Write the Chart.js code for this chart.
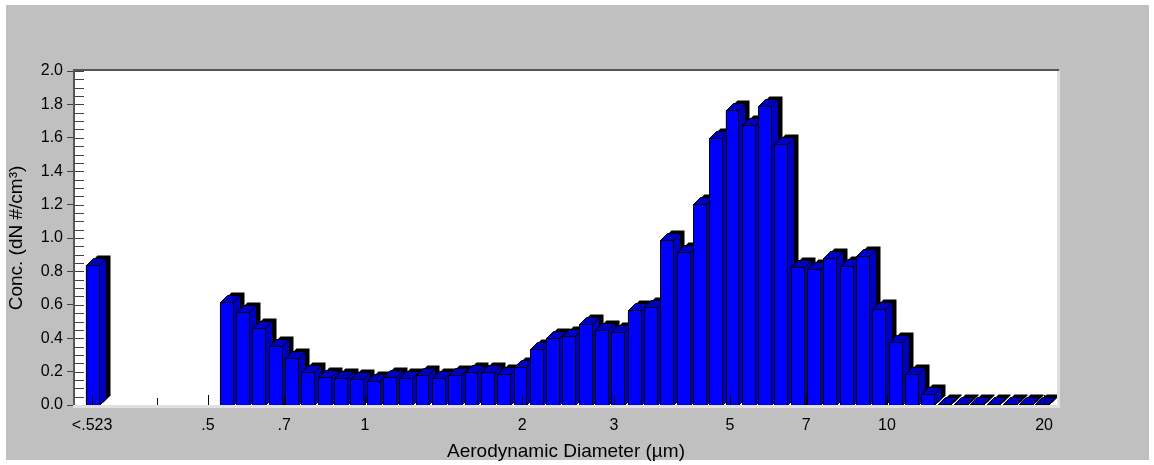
<!DOCTYPE html>
<html><head><meta charset="utf-8">
<script src="https://cdn.jsdelivr.net/npm/chart.js@4.4.1/dist/chart.umd.min.js"></script>
<style>html,body{margin:0;padding:0;background:#fff;}#wrap{width:1154px;height:465px;position:relative}</style>
</head><body><div id="wrap"><canvas id="c" width="1154" height="465"></canvas></div>
<script>
// ---- data ----
const underflowLabel = '<.523';
const underflowPosition = 0.3;
const underflowConc = 0.84;
const diameters = [0.542, 0.583, 0.626, 0.673, 0.723, 0.777, 0.835, 0.898, 0.965, 1.037,
  1.114, 1.197, 1.286, 1.382, 1.486, 1.596, 1.715, 1.843, 1.981, 2.129,
  2.288, 2.458, 2.642, 2.839, 3.051, 3.278, 3.523, 3.786, 4.068, 4.371,
  4.698, 5.048, 5.425, 5.829, 6.264, 6.732, 7.234, 7.774, 8.354, 8.977,
  9.647, 10.37, 11.14, 11.97, 12.86, 13.82, 14.86, 15.96, 17.15, 18.43, 19.81];
const concentrations = [0.614, 0.554, 0.462, 0.355, 0.283, 0.198, 0.169, 0.163, 0.156, 0.145,
  0.167, 0.161, 0.181, 0.163, 0.181, 0.199, 0.199, 0.187, 0.230, 0.334,
  0.404, 0.415, 0.487, 0.451, 0.440, 0.566, 0.588, 0.986, 0.916, 1.201,
  1.601, 1.765, 1.679, 1.788, 1.561, 0.826, 0.812, 0.882, 0.830, 0.890,
  0.576, 0.379, 0.187, 0.067, 0.006, 0.005, 0.005, 0.005, 0.004, 0.004, 0.004];
const xTickValues = [0.3, 0.4, 0.5, 0.7, 1, 2, 3, 5, 7, 10, 20];
const xTickLabels = [underflowLabel, '', '.5', '.7', '1', '2', '3', '5', '7', '10', '20'];
const yMin = 0, yMax = 2.0, yStep = 0.2, yMinorStep = 0.05;
const xMin = 0.2782, xMax = 21.17;
const xTitle = 'Aerodynamic Diameter (µm)';
const yTitle = 'Conc. (dN #/cm³)';

const points = [{x: underflowPosition, y: underflowConc}]
  .concat(diameters.map((d, i) => ({x: d, y: concentrations[i]})));

const FONT = "'Liberation Sans', Arial, sans-serif";
const FRONT = '#0000FF', DARK = '#0000C0';

function poly(ctx, pts) {
  ctx.beginPath();
  ctx.moveTo(pts[0][0], pts[0][1]);
  for (let i = 1; i < pts.length; i++) ctx.lineTo(pts[i][0], pts[i][1]);
  ctx.closePath();
}

const bars3d = {
  id: 'bars3d',
  beforeDraw(chart) {
    const {ctx, chartArea: a} = chart;
    ctx.save();
    ctx.fillStyle = '#ffffff'; ctx.fillRect(0, 0, chart.width, chart.height);
    ctx.fillStyle = '#C0C0C0'; ctx.fillRect(6, 5, 1143, 455);
    ctx.fillStyle = '#ffffff'; ctx.fillRect(a.left, a.top, a.right - a.left, a.bottom - a.top);
    ctx.restore();
  },
  afterDatasetsDraw(chart) {
    const {ctx, chartArea: a} = chart;
    const meta = chart.getDatasetMeta(0);
    const xs = chart.scales.x, ys = chart.scales.y;
    ctx.save();
    ctx.beginPath(); ctx.rect(a.left, a.top, a.right - a.left, a.bottom - a.top); ctx.clip();
    const dx = 7, dy = 7, sx = 4, sy = 3;
    ctx.lineWidth = 1;
    ctx.lineJoin = 'miter';
    meta.data.forEach(bar => {
      const p = bar.getProps(['x', 'y', 'base', 'width'], true);
      const L = Math.round(p.x - p.width / 2) + 0.5;
      const R = Math.round(p.x + p.width / 2) + 0.5;
      const T = Math.round(Math.min(p.y, p.base)) + 0.5;
      const B = Math.round(Math.max(p.y, p.base)) + 0.5;
      ctx.fillStyle = '#000';
      poly(ctx, [[L + sx, B - sy], [L + sx, T - sy], [L + dx + sx, T - dy - sy], [R + dx + sx, T - dy - sy], [R + dx + sx, B - dy - sy], [R + sx, B - sy]]);
      ctx.fill();
      ctx.strokeStyle = '#000';
      ctx.fillStyle = DARK;
      poly(ctx, [[R, T], [R + dx, T - dy], [R + dx, B - dy], [R, B]]);
      ctx.fill(); ctx.stroke();
      poly(ctx, [[L, T], [L + dx, T - dy], [R + dx, T - dy], [R, T]]);
      ctx.fill(); ctx.stroke();
      ctx.fillStyle = FRONT;
      ctx.fillRect(L, T, R - L, B - T);
      ctx.strokeRect(L, T, R - L, B - T);
    });
    ctx.strokeStyle = '#000';
    xTickValues.forEach((v, i) => {
      const x = Math.round(xs.getPixelForValue(v)) + 0.5;
      const len = xTickLabels[i] === '' ? 7 : 10;
      ctx.beginPath(); ctx.moveTo(x, a.bottom); ctx.lineTo(x, a.bottom - len); ctx.stroke();
    });
    ctx.strokeStyle = '#404040';
    const n = Math.round((yMax - yMin) / yMinorStep);
    for (let i = 0; i <= n; i++) {
      const y = Math.round(ys.getPixelForValue(yMin + i * yMinorStep)) + 0.5;
      ctx.beginPath(); ctx.moveTo(a.left, y); ctx.lineTo(a.left + 9, y); ctx.stroke();
    }
    ctx.restore();
  },
  afterDraw(chart) {
    const {ctx, chartArea: a} = chart;
    ctx.save();
    ctx.fillStyle = '#E0E0E0';
    ctx.fillRect(a.left - 2, a.bottom, a.right - a.left + 5, 3);
    ctx.fillRect(a.right, a.top, 3, a.bottom - a.top + 3);
    ctx.fillStyle = '#555555';
    ctx.fillRect(a.left - 2, a.top - 2, 2, a.bottom - a.top + 2);
    ctx.fillRect(a.left - 2, a.top - 2, a.right - a.left + 4, 2);
    ctx.restore();
  }
};

new Chart(document.getElementById('c'), {
  type: 'bar',
  data: {
    datasets: [{
      data: points,
      backgroundColor: FRONT,
      borderColor: '#000',
      borderWidth: 1,
      barPercentage: 0.8,
      categoryPercentage: 1.0
    }]
  },
  options: {
    responsive: false,
    devicePixelRatio: 1,
    animation: false,
    layout: {padding: {top: 71, right: 97, left: 0, bottom: 0}},
    plugins: {legend: {display: false}, tooltip: {enabled: false}, title: {display: false}},
    scales: {
      x: {
        type: 'logarithmic',
        min: xMin, max: xMax,
        afterBuildTicks: s => { s.ticks = xTickValues.map(v => ({value: v})); },
        afterFit: s => { s.height = 60; },
        grid: {display: false, drawTicks: false},
        border: {display: false},
        ticks: {
          autoSkip: false, maxRotation: 0, minRotation: 0, padding: 11,
          color: '#000', font: {family: FONT, size: 16},
          callback: (v, i) => xTickLabels[i]
        },
        title: {display: true, text: xTitle, color: '#000', font: {family: FONT, size: 19}, padding: {top: 0, bottom: 2}}
      },
      y: {
        type: 'linear',
        min: yMin, max: yMax,
        afterFit: s => { s.width = 75; },
        grid: {drawOnChartArea: false, drawTicks: true, tickLength: 8, color: '#404040'},
        border: {display: false},
        ticks: {
          stepSize: yStep, padding: 4, color: '#000', font: {family: FONT, size: 16},
          callback: v => Number(v).toFixed(1)
        },
        title: {display: true, text: yTitle, color: '#000', font: {family: FONT, size: 19}, padding: {top: 5, bottom: 0}}
      }
    }
  },
  plugins: [bars3d]
});
</script>
</body></html>
